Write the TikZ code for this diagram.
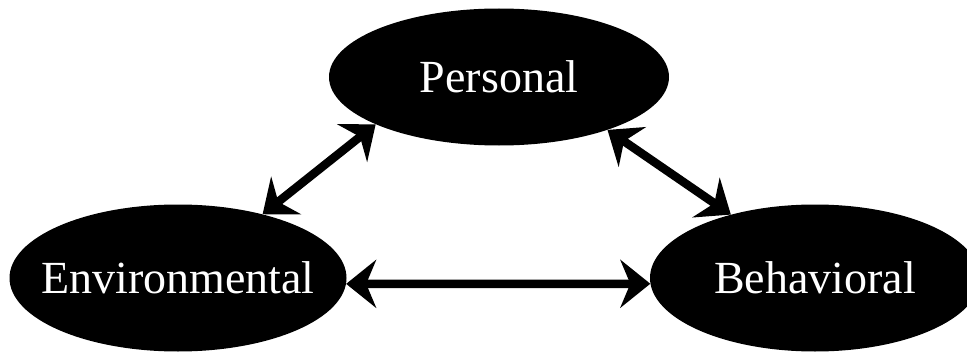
\documentclass[tikz,border=0pt]{standalone}
\usepackage{fontspec}
\setmainfont{Liberation Serif}
\usetikzlibrary{shapes.geometric,arrows.meta}
\begin{document}
\begin{tikzpicture}[x=1pt,y=-1pt,
  factor/.style={ellipse,fill=black,inner sep=0pt},
  factortext/.style={text=white,font=\fontsize{46}{50}\selectfont},
  link/.style={line width=8.5pt,
    {Stealth[length=30pt,width=48pt,inset=10pt]}-{Stealth[length=30pt,width=48pt,inset=10pt]}}]
\useasboundingbox (0,0) rectangle (967,353);
\node[factor,minimum width=340pt,minimum height=137pt,
  label={[factortext]center:Personal}] (per) at (499,77) {};
\node[factor,minimum width=337pt,minimum height=147pt,
  label={[factortext]center:Environmental}] (env) at (178,278) {};
\node[factor,minimum width=330pt,minimum height=147pt,
  label={[factortext]center:Behavioral}] (beh) at (815,278) {};
\draw[link] (env.37) -- (per.201);
\draw[link] (per.334) -- (beh.143);
\draw[link] (env.-2) -- (beh.182);
\end{tikzpicture}
\end{document}
